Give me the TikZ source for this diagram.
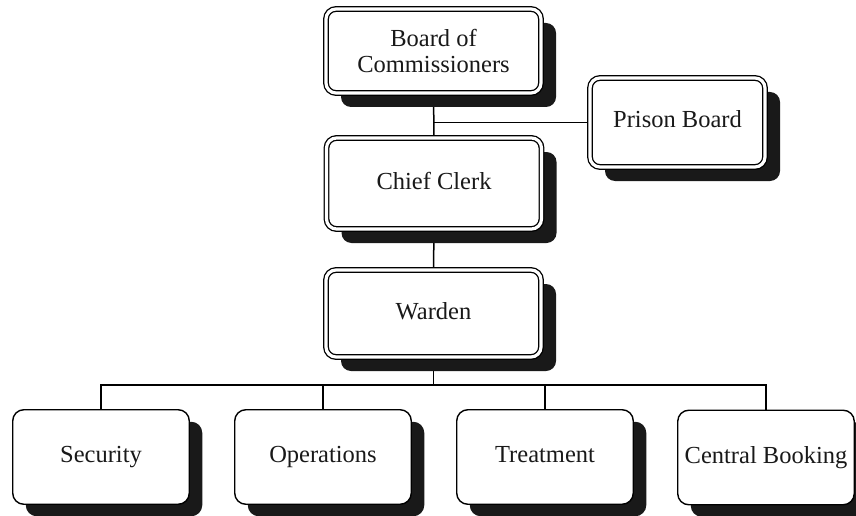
\documentclass[tikz,border=0pt]{standalone}
\usepackage{fontspec}
\setmainfont{Liberation Serif}
\usetikzlibrary{shadows}
\tikzset{
  boxfont/.style={font=\fontsize{24.5}{26.5}\selectfont, text=black!90},
  oneline/.style={text height=16pt, text depth=5pt},
  dblbox/.style={boxfont, draw=black, line width=1.3pt, double=white,
    double distance=3.2pt, rounded corners=10pt, fill=white, align=center,
    inner sep=0pt, minimum width=215pt,
    drop shadow={shadow xshift=15pt, shadow yshift=-14pt, fill=black!90, opacity=1}},
  unitbox/.style={boxfont, oneline, draw=black, line width=1.4pt, rounded corners=11pt,
    fill=white, align=center, inner sep=0pt, minimum width=176.5pt,
    minimum height=94.5pt,
    drop shadow={shadow xshift=13pt, shadow yshift=-12pt, fill=black!90, opacity=1}},
  link/.style={draw=black, line width=1.5pt},
}
\pgfdeclarelayer{background}
\pgfsetlayers{background,main}
\begin{document}
\begin{tikzpicture}[x=1pt, y=-1pt]
  \useasboundingbox (0,0) rectangle (856,516);
  % leadership chain
  \node[dblbox, minimum height=84pt]  (board)  at (433.5,51)    {Board of\\Commissioners};
  \node[dblbox, oneline, minimum height=91pt]  (chief)  at (434,183.5)   {Chief Clerk};
  \node[dblbox, oneline, minimum height=87pt]  (warden) at (433.5,313.5) {Warden};
  \node[dblbox, oneline, minimum width=175pt, minimum height=89pt] (prison) at (677.5,122.5) {Prison Board};
  % divisions
  \node[unitbox] (security) at (101,457)   {Security};
  \node[unitbox] (ops)      at (323,457)   {Operations};
  \node[unitbox] (treat)    at (545,457)   {Treatment};
  \node[unitbox] (central)  at (766,457.5) {Central Booking};
  \coordinate (bus) at (433.5,385);
  % connectors sit behind the boxes and their shadows
  \begin{pgfonlayer}{background}
    \draw[link] (board.south) -- (chief.north);
    \draw[link] (board.south |- prison.west) -- (prison.west);
    \draw[link] (chief.south) -- (warden.north);
    \draw[link] (warden.south) -- (bus);
    \draw[link] (security.north) -- (security.north |- bus) -- (central.north |- bus) -- (central.north);
    \draw[link] (ops.north) -- (ops.north |- bus);
    \draw[link] (treat.north) -- (treat.north |- bus);
  \end{pgfonlayer}
\end{tikzpicture}
\end{document}
